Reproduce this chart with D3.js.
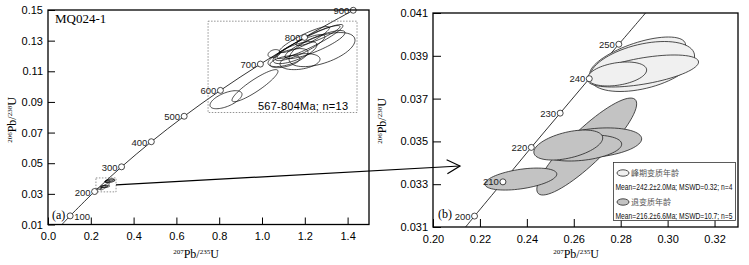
<!DOCTYPE html>
<html><head><meta charset="utf-8">
<script src="https://cdn.jsdelivr.net/npm/d3@7"></script>
<style>body{margin:0;background:#fff}</style></head><body>
<svg id="c" width="749" height="265"></svg>
<script>
// ---------- DATA ----------
// Concordia points (age Ma, 207Pb/235U, 206Pb/238U) – panel a
const concAgesA = [64, 100, 200, 300, 400, 500, 600, 700, 800, 900];
const concR75A  = [0.0652, 0.1035, 0.2177, 0.3437, 0.4828, 0.6363, 0.8056, 0.9925, 1.1987, 1.4264];
const concR68A  = [0.0100, 0.01563, 0.03151, 0.04764, 0.06402, 0.08065, 0.09754, 0.11470, 0.13213, 0.14982];
const labelAgesA = [100, 200, 300, 400, 500, 600, 700, 800, 900];
// Concordia points – panel b
const concAgesB = [197, 200, 210, 220, 230, 240, 250, 259];
const concR75B  = [0.2139, 0.2177, 0.2298, 0.2419, 0.2542, 0.2666, 0.2792, 0.2906];
const concR68B  = [0.0310, 0.03151, 0.03311, 0.03472, 0.03632, 0.03793, 0.03954, 0.0410];
const labelAgesB = [200, 210, 220, 230, 240, 250];

// Old zircon ellipses (panel a): centre x, centre y, sigma x, sigma y, rho
const oldX   = [0.8318, 0.9673, 1.0561, 1.2243, 1.2477, 1.2804, 1.1776, 1.1542, 1.1215, 1.1981, 1.1075, 1.1776, 1.2617];
const oldY   = [0.09145, 0.10061, 0.12154, 0.12939, 0.12742, 0.12416, 0.12547, 0.12219, 0.11892, 0.1307, 0.11631, 0.11631, 0.13331];
const oldSx  = [0.0748, 0.1075, 0.028, 0.1542, 0.1402, 0.1542, 0.1168, 0.1028, 0.0935, 0.1168, 0.0701, 0.0935, 0.1028];
const oldSy  = [0.00589, 0.01047, 0.00262, 0.01112, 0.00916, 0.01112, 0.0085, 0.0072, 0.00589, 0.0085, 0.00393, 0.00523, 0.00654];
const oldRho = [0.6, 0.9, 0.3, 0.93, 0.85, 0.55, 0.85, 0.7, 0.6, 0.9, 0.5, 0.3, 0.9];

// Peak metamorphic ellipses (light)
const peakX   = [0.28723, 0.28915, 0.28957, 0.27851];
const peakY   = [0.038827, 0.0385, 0.03829, 0.03815];
const peakSx  = [0.02043, 0.02234, 0.02362, 0.01255];
const peakSy  = [0.001051, 0.001168, 0.000748, 0.000561];
const peakRho = [0.64, 0.42, 0.56, 0.33];
// Retrograde metamorphic ellipses (grey)
const retroX   = [0.26553, 0.26894, 0.26340, 0.25766, 0.23745];
const retroY   = [0.03476, 0.03493, 0.03469, 0.03483, 0.03324];
const retroSx  = [0.02128, 0.02, 0.01702, 0.01468, 0.01532];
const retroSy  = [0.002266, 0.000701, 0.000607, 0.000701, 0.000514];
const retroRho = [0.88, 0.27, 0.3, 0.47, 0.45];

const xTicksA = [0.0, 0.2, 0.4, 0.6, 0.8, 1.0, 1.2, 1.4];
const yTicksA = [0.01, 0.03, 0.05, 0.07, 0.09, 0.11, 0.13, 0.15];
const xTicksB = [0.20, 0.22, 0.24, 0.26, 0.28, 0.30, 0.32];
const yTicksB = [0.031, 0.033, 0.035, 0.037, 0.039, 0.041];

const zoomBox = [0.224, 0.318, 0.0313, 0.0404];
const clusterBox = [0.748, 1.444, 0.0831, 0.1427];
const arrowStartA = [0.3178, 0.03584];
const arrowEndB = [0.2115, 0.03385];

const sampleName = "MQ024-1";
const clusterText = "567-804Ma; n=13";
const legendNames = ["峰期变质年龄", "退变质年龄"];
const legendStats = ["Mean=242.2±2.0Ma; MSWD=0.32; n=4", "Mean=216.2±6.6Ma; MSWD=10.7; n=5"];

// ---------- DRAW ----------
const svg = d3.select("#c");
const SANS = "'Liberation Sans', Arial, sans-serif";
const SERIF = "'Liberation Serif', 'Times New Roman', serif";

const A = {l: 48, r: 369, t: 10, b: 224.5};
const B = {l: 433, r: 738, t: 13, b: 227};
const xA = d3.scaleLinear().domain([0, 1.5]).range([A.l, A.r]);
const yA = d3.scaleLinear().domain([0.01, 0.15]).range([A.b, A.t]);
const xB = d3.scaleLinear().domain([0.20, 0.33]).range([B.l, B.r]);
const yB = d3.scaleLinear().domain([0.031, 0.041]).range([B.b, B.t]);

const defs = svg.append("defs");
defs.append("clipPath").attr("id", "clipA").append("rect")
  .attr("x", A.l).attr("y", A.t).attr("width", A.r - A.l).attr("height", A.b - A.t);
defs.append("clipPath").attr("id", "clipB").append("rect")
  .attr("x", B.l).attr("y", B.t).attr("width", B.r - B.l).attr("height", B.b - B.t);

function ellipsePath(xs, ys, cx, cy, sx, sy, rho) {
  const pts = d3.range(0, 73).map(i => {
    const t = i / 72 * 2 * Math.PI;
    const X = cx + sx * Math.cos(t);
    const Y = cy + sy * (rho * Math.cos(t) + Math.sqrt(1 - rho * rho) * Math.sin(t));
    return [xs(X), ys(Y)];
  });
  return d3.line().curve(d3.curveLinearClosed)(pts);
}

function axes(P, xs, ys, xt, yt, xfmt, yfmt, tickLen) {
  const g = svg.append("g");
  const ax = g.append("g").attr("transform", `translate(0,${P.b})`)
    .call(d3.axisBottom(xs).tickValues(xt).tickFormat(xfmt).tickSizeInner(-tickLen).tickSizeOuter(0).tickPadding(6));
  const ay = g.append("g").attr("transform", `translate(${P.l},0)`)
    .call(d3.axisLeft(ys).tickValues(yt).tickFormat(yfmt).tickSizeInner(-tickLen).tickSizeOuter(0).tickPadding(5));
  [ax, ay].forEach(a => {
    a.select(".domain").remove();
    a.selectAll("line").attr("stroke", "#000").attr("stroke-width", 1);
    a.selectAll("text").attr("font-family", SANS).attr("font-size", 11).attr("fill", "#000");
  });
  ax.selectAll("text").attr("dy", "0.9em");
  g.append("rect").attr("x", P.l).attr("y", P.t).attr("width", P.r - P.l).attr("height", P.b - P.t)
    .attr("fill", "none").attr("stroke", "#000").attr("stroke-width", 1.3);
}

function isoText(sel, a, b) {
  sel.append("tspan").attr("font-size", 7).attr("dy", -4).text(a);
  sel.append("tspan").attr("font-size", 12).attr("dy", 4).text("Pb/");
  sel.append("tspan").attr("font-size", 7).attr("dy", -4).text(b);
  sel.append("tspan").attr("font-size", 12).attr("dy", 4).text("U");
}

// ----- Panel A -----
const gA = svg.append("g").attr("clip-path", "url(#clipA)");
const concLine = (xs, ys) => d3.line().x(d => xs(d[0])).y(d => ys(d[1])).curve(d3.curveCatmullRom);
gA.append("path").datum(concR75A.map((v, i) => [v, concR68A[i]]))
  .attr("d", concLine(xA, yA)).attr("fill", "none").attr("stroke", "#000").attr("stroke-width", 0.8);

gA.selectAll("path.old").data(oldX).join("path").attr("class", "old")
  .attr("d", (d, i) => ellipsePath(xA, yA, oldX[i], oldY[i], oldSx[i], oldSy[i], oldRho[i]))
  .attr("fill", "none").attr("stroke", "#000").attr("stroke-width", 0.7);

// young ellipses miniature
const young = retroX.map((d, i) => [retroX[i], retroY[i], retroSx[i], retroSy[i], retroRho[i]])
  .concat(peakX.map((d, i) => [peakX[i], peakY[i], peakSx[i], peakSy[i], peakRho[i]]));
gA.selectAll("path.yg").data(young).join("path").attr("class", "yg")
  .attr("d", d => ellipsePath(xA, yA, d[0], d[1], d[2], d[3], d[4]))
  .attr("fill", "none").attr("stroke", "#000").attr("stroke-width", 0.6);

// dashed boxes
[clusterBox, zoomBox].forEach(bx => {
  gA.append("rect").attr("x", xA(bx[0])).attr("y", yA(bx[3]))
    .attr("width", xA(bx[1]) - xA(bx[0])).attr("height", yA(bx[2]) - yA(bx[3]))
    .attr("fill", "none").attr("stroke", "#777").attr("stroke-width", 0.8).attr("stroke-dasharray", "1.5,1.5");
});

const labA = svg.append("g");
labelAgesA.forEach(age => {
  const i = concAgesA.indexOf(age);
  const cx = xA(concR75A[i]), cy = yA(concR68A[i]);
  labA.append("circle").attr("cx", cx).attr("cy", cy).attr("r", 3)
    .attr("fill", "#fff").attr("stroke", "#000").attr("stroke-width", 0.7);
  labA.append("text").attr("x", age === 100 ? cx + 4 : cx - 4).attr("y", cy + 4)
    .attr("text-anchor", age === 100 ? "start" : "end")
    .attr("font-family", SANS).attr("font-size", 9.5).attr("fill", "#222").text(age);
});

axes(A, xA, yA, xTicksA, yTicksA, d3.format(".1f"), d3.format(".2f"), 7);

svg.append("text").attr("x", 55).attr("y", 23).attr("font-family", SERIF).attr("font-size", 13).text(sampleName);
svg.append("text").attr("x", 52).attr("y", 219).attr("font-family", SERIF).attr("font-size", 12).text("(a)");
svg.append("text").attr("x", 258).attr("y", 110).attr("font-family", SANS).attr("font-size", 11)
  .attr("textLength", 90).text(clusterText);

isoText(svg.append("text").attr("x", 196).attr("y", 258).attr("text-anchor", "middle").attr("font-family", SERIF), "207", "235");
isoText(svg.append("text").attr("transform", "translate(16,120) rotate(-90)").attr("text-anchor", "middle").attr("font-family", SERIF), "206", "238");

// ----- Panel B -----
const gB = svg.append("g").attr("clip-path", "url(#clipB)");
gB.append("path").datum(concR75B.map((v, i) => [v, concR68B[i]]))
  .attr("d", concLine(xB, yB)).attr("fill", "none").attr("stroke", "#000").attr("stroke-width", 0.8);

gB.selectAll("path.retro").data(retroX).join("path").attr("class", "retro")
  .attr("d", (d, i) => ellipsePath(xB, yB, retroX[i], retroY[i], retroSx[i], retroSy[i], retroRho[i]))
  .attr("fill", "#c3c3c3").attr("stroke", "#222").attr("stroke-width", 0.8);
gB.selectAll("path.peak").data(peakX).join("path").attr("class", "peak")
  .attr("d", (d, i) => ellipsePath(xB, yB, peakX[i], peakY[i], peakSx[i], peakSy[i], peakRho[i]))
  .attr("fill", "#f0f0f0").attr("stroke", "#222").attr("stroke-width", 0.8);

const labB = svg.append("g");
labelAgesB.forEach(age => {
  const i = concAgesB.indexOf(age);
  const cx = xB(concR75B[i]), cy = yB(concR68B[i]);
  labB.append("circle").attr("cx", cx).attr("cy", cy).attr("r", 3)
    .attr("fill", "#fff").attr("stroke", "#000").attr("stroke-width", 0.7);
  labB.append("text").attr("x", cx - 4).attr("y", cy + 3.5).attr("text-anchor", "end")
    .attr("font-family", SANS).attr("font-size", 9.5).attr("fill", "#222").text(age);
});

axes(B, xB, yB, xTicksB, yTicksB, d3.format(".2f"), d3.format(".3f"), 8);

svg.append("text").attr("x", 438).attr("y", 218).attr("font-family", SERIF).attr("font-size", 12).text("(b)");
isoText(svg.append("text").attr("x", 576).attr("y", 258).attr("text-anchor", "middle").attr("font-family", SERIF), "207", "235");
isoText(svg.append("text").attr("transform", "translate(386,121) rotate(-90)").attr("text-anchor", "middle").attr("font-family", SERIF), "206", "238");

// legend
const lg = svg.append("g");
lg.append("rect").attr("x", 613.5).attr("y", 162.5).attr("width", 122).attr("height", 58)
  .attr("fill", "#fff").attr("stroke", "#333").attr("stroke-width", 0.8);
const legFill = ["#f0f0f0", "#c3c3c3"];
[0, 1].forEach(k => {
  const y0 = 173 + k * 29;
  lg.append("ellipse").attr("cx", 623).attr("cy", y0).attr("rx", 6).attr("ry", 3.2)
    .attr("fill", legFill[k]).attr("stroke", "#222").attr("stroke-width", 0.8);
  lg.append("text").attr("x", 631).attr("y", y0 + 3).attr("font-family", "'Noto Sans CJK SC', sans-serif")
    .attr("font-size", 8).attr("fill", "#555").text(legendNames[k]);
  const st = lg.append("text").attr("x", 0).attr("y", 0).attr("font-family", SANS)
    .attr("font-size", 9).attr("fill", "#111").text(legendStats[k]);
  const w = st.node().getComputedTextLength();
  st.attr("transform", `translate(615.5,${y0 + 16.5}) scale(${117 / w},1)`);
});

// connecting arrow
const p0 = [xA(arrowStartA[0]), yA(arrowStartA[1])];
const p1 = [xB(arrowEndB[0]), yB(arrowEndB[1])];
svg.append("line").attr("x1", p0[0]).attr("y1", p0[1]).attr("x2", p1[0]).attr("y2", p1[1])
  .attr("stroke", "#000").attr("stroke-width", 1.2);
const ang = Math.atan2(p1[1] - p0[1], p1[0] - p0[0]);
const hl = 13, hw = 7;
const head = [
  [p1[0] - hl * Math.cos(ang) + hw * Math.sin(ang), p1[1] - hl * Math.sin(ang) - hw * Math.cos(ang)],
  p1,
  [p1[0] - hl * Math.cos(ang) - hw * Math.sin(ang), p1[1] - hl * Math.sin(ang) + hw * Math.cos(ang)]
];
svg.append("path").attr("d", d3.line()(head)).attr("fill", "none").attr("stroke", "#000").attr("stroke-width", 1.2);
</script></body></html>
